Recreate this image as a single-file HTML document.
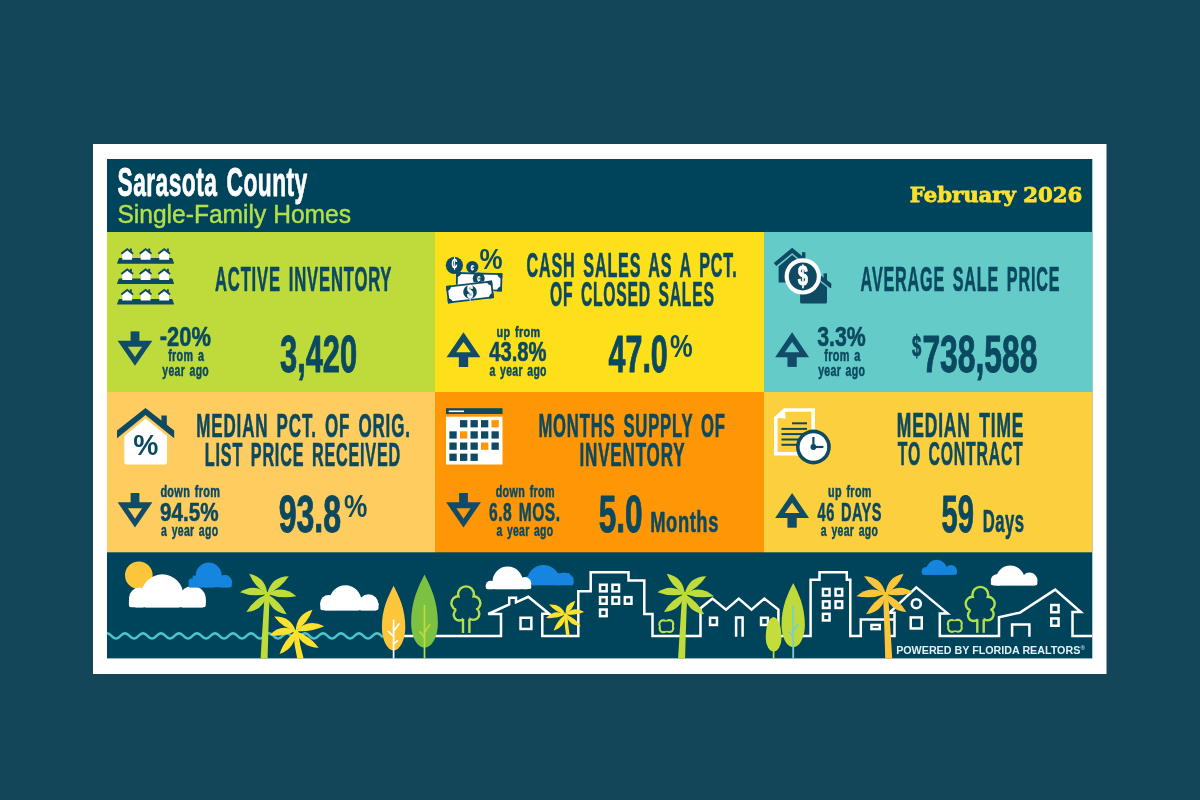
<!DOCTYPE html>
<html lang="en"><head><meta charset="utf-8"><title>Sarasota County Single-Family Homes - February 2026</title>
<style>html,body{margin:0;padding:0;background:#124658;width:1200px;height:800px;overflow:hidden}svg{display:block;will-change:transform}text{font-kerning:normal}</style></head>
<body>
<svg width="1200" height="800" viewBox="0 0 1200 800">
<rect x="0" y="0" width="1200" height="800" fill="#124658"/>
<rect x="93" y="144" width="1013.5" height="530" fill="#ffffff"/>
<rect x="107" y="159" width="985.3" height="499.4" fill="#00445c"/>
<rect x="107" y="232" width="328" height="160" fill="#bedb3b"/>
<rect x="435" y="232" width="329" height="160" fill="#fde01a"/>
<rect x="764" y="232" width="328.29999999999995" height="160" fill="#64cbc8"/>
<rect x="107" y="392" width="328" height="160.29999999999995" fill="#fecc5f"/>
<rect x="435" y="392" width="329" height="160.29999999999995" fill="#ff9606"/>
<rect x="764" y="392" width="328.29999999999995" height="160.29999999999995" fill="#fccf3f"/>
<g fill="#104c67"><rect x="130.6" y="331.4" width="8.8" height="11"/><polygon points="117.6,340.75 152.4,340.75 135,365.79999999999995"/></g><polygon points="127.9,346.65 142.1,346.65 135,357.09999999999997" fill="#bedb3b"/>
<g fill="#104c67"><rect x="458.85" y="355.3" width="9.3" height="11.7"/><polygon points="446.55,357.3 480.45,357.3 463.5,332.3"/></g><polygon points="456.2,352.3 470.8,352.3 463.5,342.0" fill="#fde01a"/>
<g fill="#104c67"><rect x="787.45" y="355.2" width="9.3" height="11.7"/><polygon points="775.15,357.2 809.0500000000001,357.2 792.1,332.2"/></g><polygon points="784.8000000000001,352.2 799.4,352.2 792.1,341.9" fill="#64cbc8"/>
<g fill="#104c67"><rect x="130.6" y="493" width="8.8" height="11"/><polygon points="117.6,502.35 152.4,502.35 135,527.4"/></g><polygon points="127.9,508.25 142.1,508.25 135,518.7" fill="#fecc5f"/>
<g fill="#104c67"><rect x="459.1" y="493" width="8.8" height="11"/><polygon points="446.1,502.35 480.9,502.35 463.5,527.4"/></g><polygon points="456.4,508.25 470.6,508.25 463.5,518.7" fill="#ff9606"/>
<g fill="#104c67"><rect x="787.45" y="516" width="9.3" height="11.7"/><polygon points="775.15,518 809.0500000000001,518 792.1,493"/></g><polygon points="784.8000000000001,513 799.4,513 792.1,502.7" fill="#fccf3f"/>
<polygon points="119.4,258.70000000000005 171.8,258.70000000000005 173.4,263.1 117.7,263.1" fill="#0f4a63" stroke="#0f4a63" stroke-width="1.2" stroke-linejoin="round"/>
<path d="M122.3,259.70000000000005 V253.10000000000002 L127.2,249.3 L132.1,253.10000000000002 V259.70000000000005 Z" fill="#fff"/>
<rect x="129.9" y="248.50000000000003" width="1.9" height="3.6" fill="#0f4a63"/>
<path d="M121.3,253.8 L127.2,249.20000000000002 L133.1,253.8" fill="none" stroke="#0f4a63" stroke-width="1.9"/>
<path d="M140.7,259.70000000000005 V253.10000000000002 L145.6,249.3 L150.5,253.10000000000002 V259.70000000000005 Z" fill="#fff"/>
<rect x="148.29999999999998" y="248.50000000000003" width="1.9" height="3.6" fill="#0f4a63"/>
<path d="M139.7,253.8 L145.6,249.20000000000002 L151.5,253.8" fill="none" stroke="#0f4a63" stroke-width="1.9"/>
<path d="M159.29999999999998,259.70000000000005 V253.10000000000002 L164.2,249.3 L169.1,253.10000000000002 V259.70000000000005 Z" fill="#fff"/>
<rect x="166.89999999999998" y="248.50000000000003" width="1.9" height="3.6" fill="#0f4a63"/>
<path d="M158.29999999999998,253.8 L164.2,249.20000000000002 L170.1,253.8" fill="none" stroke="#0f4a63" stroke-width="1.9"/>
<polygon points="119.4,279.0 171.8,279.0 173.4,283.4 117.7,283.4" fill="#0f4a63" stroke="#0f4a63" stroke-width="1.2" stroke-linejoin="round"/>
<path d="M122.3,280.0 V273.4 L127.2,269.59999999999997 L132.1,273.4 V280.0 Z" fill="#fff"/>
<rect x="129.9" y="268.79999999999995" width="1.9" height="3.6" fill="#0f4a63"/>
<path d="M121.3,274.09999999999997 L127.2,269.5 L133.1,274.09999999999997" fill="none" stroke="#0f4a63" stroke-width="1.9"/>
<path d="M140.7,280.0 V273.4 L145.6,269.59999999999997 L150.5,273.4 V280.0 Z" fill="#fff"/>
<rect x="148.29999999999998" y="268.79999999999995" width="1.9" height="3.6" fill="#0f4a63"/>
<path d="M139.7,274.09999999999997 L145.6,269.5 L151.5,274.09999999999997" fill="none" stroke="#0f4a63" stroke-width="1.9"/>
<path d="M159.29999999999998,280.0 V273.4 L164.2,269.59999999999997 L169.1,273.4 V280.0 Z" fill="#fff"/>
<rect x="166.89999999999998" y="268.79999999999995" width="1.9" height="3.6" fill="#0f4a63"/>
<path d="M158.29999999999998,274.09999999999997 L164.2,269.5 L170.1,274.09999999999997" fill="none" stroke="#0f4a63" stroke-width="1.9"/>
<polygon points="119.4,299.5 171.8,299.5 173.4,303.9 117.7,303.9" fill="#0f4a63" stroke="#0f4a63" stroke-width="1.2" stroke-linejoin="round"/>
<path d="M122.3,300.5 V293.9 L127.2,290.09999999999997 L132.1,293.9 V300.5 Z" fill="#fff"/>
<rect x="129.9" y="289.29999999999995" width="1.9" height="3.6" fill="#0f4a63"/>
<path d="M121.3,294.59999999999997 L127.2,290.0 L133.1,294.59999999999997" fill="none" stroke="#0f4a63" stroke-width="1.9"/>
<path d="M140.7,300.5 V293.9 L145.6,290.09999999999997 L150.5,293.9 V300.5 Z" fill="#fff"/>
<rect x="148.29999999999998" y="289.29999999999995" width="1.9" height="3.6" fill="#0f4a63"/>
<path d="M139.7,294.59999999999997 L145.6,290.0 L151.5,294.59999999999997" fill="none" stroke="#0f4a63" stroke-width="1.9"/>
<path d="M159.29999999999998,300.5 V293.9 L164.2,290.09999999999997 L169.1,293.9 V300.5 Z" fill="#fff"/>
<rect x="166.89999999999998" y="289.29999999999995" width="1.9" height="3.6" fill="#0f4a63"/>
<path d="M158.29999999999998,294.59999999999997 L164.2,290.0 L170.1,294.59999999999997" fill="none" stroke="#0f4a63" stroke-width="1.9"/>
<clipPath id="bl1"><rect x="456.0" y="272.7" width="46.2" height="18.2"/></clipPath>
<g transform="rotate(1.5 479.1 281.8)"><rect x="456.0" y="272.7" width="46.2" height="18.2" fill="#fff"/><g clip-path="url(#bl1)" fill="#0f4a63"><circle cx="456.0" cy="272.7" r="5.2"/><circle cx="502.2" cy="272.7" r="5.2"/><circle cx="456.0" cy="290.9" r="5.2"/><circle cx="502.2" cy="290.9" r="5.2"/></g><rect x="456.9" y="273.59999999999997" width="44.400000000000006" height="16.4" fill="none" stroke="#0f4a63" stroke-width="1.8"/></g>
<circle cx="454.4" cy="265.3" r="8.6" fill="#0f4a63"/><circle cx="472.3" cy="267.1" r="6.1" fill="#0f4a63"/><circle cx="478.7" cy="278.5" r="6" fill="#0f4a63"/>
<text x="454.6" y="270.4" text-anchor="middle" font-family="'Liberation Sans',sans-serif" font-weight="bold" font-size="19" fill="#fff" textLength="6" lengthAdjust="spacingAndGlyphs">¢</text>
<text x="472.4" y="270.6" text-anchor="middle" font-family="'Liberation Sans',sans-serif" font-weight="bold" font-style="italic" font-size="9.5" fill="#fff" textLength="4" lengthAdjust="spacingAndGlyphs">¢</text>
<text x="478.8" y="281.8" text-anchor="middle" font-family="'Liberation Sans',sans-serif" font-weight="bold" font-style="italic" font-size="9" fill="#fff" textLength="3.8" lengthAdjust="spacingAndGlyphs">¢</text>
<clipPath id="bl2"><rect x="446.8" y="283.2" width="46.4" height="17.6"/></clipPath>
<g transform="rotate(-6.8 470 292)"><rect x="446.8" y="283.2" width="46.4" height="17.6" fill="#fff"/><g clip-path="url(#bl2)" fill="#0f4a63"><circle cx="446.8" cy="283.2" r="5.2"/><circle cx="493.2" cy="283.2" r="5.2"/><circle cx="446.8" cy="300.8" r="5.2"/><circle cx="493.2" cy="300.8" r="5.2"/></g><rect x="447.7" y="284.09999999999997" width="44.6" height="15.8" fill="none" stroke="#0f4a63" stroke-width="1.8"/><circle cx="470" cy="292" r="6.8" fill="#0f4a63"/></g>
<text x="470" y="298.4" text-anchor="middle" font-family="'Liberation Sans',sans-serif" font-weight="bold" font-size="17.5" fill="#fff" stroke="#fff" stroke-width="0.5" textLength="6.2" lengthAdjust="spacingAndGlyphs">$</text>
<g fill="#0f4a63"><rect x="802" y="252.2" width="3.4" height="9"/><path d="M778.6,266.4 L792.2,255.1 L805.6,266.3 V282.4 H778.6 Z"/><path d="M773.8,262.9 L792.2,247.8 L807,260.2 V265.6 L792.2,253.1 L776.2,266 Z"/><rect x="823.6" y="273.4" width="3.4" height="9"/><path d="M800.1,287 L813.5,276.7 L827,287.2 V302.1 Q827,303.6 825.5,303.6 H801.6 Q800.1,303.6 800.1,302.1 Z"/><path d="M795,284.4 L813.5,269.7 L831.3,283.6 V287.6 L830.6,288.3 L813.5,275 L797.2,287.8 Z"/></g>
<circle cx="802.8" cy="276.4" r="18.2" fill="#fff"/><circle cx="802.8" cy="276.4" r="14" fill="#0f4a63"/>
<text x="802.8" y="285.3" text-anchor="middle" font-family="'Liberation Sans',sans-serif" font-weight="bold" font-size="28" fill="#fff" stroke="#fff" stroke-width="0.9" textLength="10.2" lengthAdjust="spacingAndGlyphs">$</text>
<path d="M124.3,436 L145.5,418.6 L167,436 V462.3 Q167,464.5 164.8,464.5 H126.5 Q124.3,464.5 124.3,462.3 Z" fill="#fff"/>
<rect x="161.4" y="415.5" width="5.4" height="12" fill="#0f4a63"/>
<path d="M117,430.5 L145.5,408.1 L174.2,430.5 V438.2 L145.5,415 L117,438.2 Z" fill="#0f4a63"/>
<rect x="446" y="408.2" width="56.5" height="5.8" fill="#0f4a63"/><rect x="448.7" y="410.5" width="15.3" height="1.6" fill="#fff"/>
<rect x="446" y="416.7" width="56.5" height="47.8" fill="#fff"/>
<rect x="460" y="420.1" width="7.3" height="7.3" fill="#0f4a63"/>
<rect x="470.5" y="420.1" width="7.3" height="7.3" fill="#0f4a63"/>
<rect x="481" y="420.1" width="7.3" height="7.3" fill="#0f4a63"/>
<rect x="491.5" y="420.1" width="7.3" height="7.3" fill="#ff9606"/>
<rect x="449.4" y="431.3" width="7.3" height="7.3" fill="#0f4a63"/>
<rect x="460" y="431.3" width="7.3" height="7.3" fill="#ff9606"/>
<rect x="470.5" y="431.3" width="7.3" height="7.3" fill="#0f4a63"/>
<rect x="481" y="431.3" width="7.3" height="7.3" fill="#0f4a63"/>
<rect x="491.5" y="431.3" width="7.3" height="7.3" fill="#0f4a63"/>
<rect x="449.4" y="442.5" width="7.3" height="7.3" fill="#0f4a63"/>
<rect x="460" y="442.5" width="7.3" height="7.3" fill="#0f4a63"/>
<rect x="470.5" y="442.5" width="7.3" height="7.3" fill="#0f4a63"/>
<rect x="481" y="442.5" width="7.3" height="7.3" fill="#ff9606"/>
<rect x="491.5" y="442.5" width="7.3" height="7.3" fill="#0f4a63"/>
<rect x="449.4" y="453.6" width="7.3" height="7.3" fill="#0f4a63"/>
<rect x="460" y="453.6" width="7.3" height="7.3" fill="#0f4a63"/>
<rect x="470.5" y="453.6" width="7.3" height="7.3" fill="#0f4a63"/>
<path d="M784.6,410 H813.2 V453.7 H775.8 V418 Z" fill="none" stroke="#fff" stroke-width="3.6" stroke-linejoin="miter"/>
<polygon points="774,417.8 784.8,408.2 785.6,418.6" fill="#fff"/>
<rect x="792" y="422.3" width="15" height="2" fill="#0f4a63"/>
<rect x="781.5" y="427.9" width="25.5" height="2" fill="#0f4a63"/>
<rect x="781.5" y="433.1" width="25.5" height="2" fill="#0f4a63"/>
<rect x="781.5" y="438.5" width="25.5" height="2" fill="#0f4a63"/>
<rect x="781.5" y="443.8" width="25.5" height="2" fill="#0f4a63"/>
<circle cx="813.4" cy="447" r="17.4" fill="#0f4a63"/><circle cx="813.4" cy="447" r="13.8" fill="#fff"/>
<circle cx="813.4" cy="447" r="2.9" fill="#0f4a63"/><rect x="812.3" y="437" width="2.2" height="10" fill="#0f4a63"/><rect x="813.4" y="445.9" width="10" height="2.2" fill="#0f4a63"/>
<circle cx="138.8" cy="575.2" r="13.8" fill="#fcc53a"/>
<clipPath id="cl1"><rect x="126.9" y="537.4" width="80.9" height="70"/></clipPath>
<g clip-path="url(#cl1)" fill="#fff"><circle cx="162.3" cy="595.3" r="21"/><circle cx="192.5" cy="599.2" r="13.3"/><circle cx="139.4" cy="598" r="10.4"/><rect x="128.9" y="598.4" width="76.9" height="9" rx="2.6"/><rect x="132.9" y="595.4" width="68.9" height="9"/></g>
<clipPath id="cl2"><rect x="186.7" y="517.6" width="47.10000000000002" height="70"/></clipPath>
<g clip-path="url(#cl2)" fill="#1585e0"><circle cx="208.7" cy="575.6" r="13"/><circle cx="224.8" cy="582" r="7"/><circle cx="196.2" cy="585" r="7.4"/><rect x="188.7" y="578.6" width="43.10000000000002" height="9" rx="2.6"/><rect x="192.7" y="575.6" width="35.10000000000002" height="9"/></g>
<clipPath id="cl3"><rect x="318.3" y="540.4" width="62.19999999999999" height="70"/></clipPath>
<g clip-path="url(#cl3)" fill="#fff"><circle cx="345.4" cy="601.4" r="16.1"/><circle cx="368.5" cy="604.3" r="10"/><circle cx="328.6" cy="603.2" r="8.3"/><rect x="320.3" y="601.4" width="58.19999999999999" height="9" rx="2.6"/><rect x="324.3" y="598.4" width="50.19999999999999" height="9"/></g>
<clipPath id="cl5"><rect x="523" y="515.2" width="52.5" height="70"/></clipPath>
<g clip-path="url(#cl5)" fill="#1585e0"><circle cx="543.5" cy="581.3" r="16.4"/><circle cx="564.3" cy="581.6" r="9.2"/><circle cx="531" cy="583" r="5"/><rect x="525" y="576.2" width="48.5" height="9" rx="2.6"/><rect x="529" y="573.2" width="40.5" height="9"/></g>
<clipPath id="cl4"><rect x="483.7" y="519.3" width="49.599999999999966" height="70"/></clipPath>
<g clip-path="url(#cl4)" fill="#fff"><circle cx="507.7" cy="581.7" r="15.2"/><circle cx="524.8" cy="583.5" r="6.5"/><circle cx="490.6" cy="585.6" r="4.9"/><rect x="485.7" y="584.3" width="45.599999999999966" height="5" rx="2.6"/><rect x="489.7" y="581.3" width="37.599999999999966" height="5"/></g>
<clipPath id="cl6"><rect x="919.7" y="504.70000000000005" width="39.299999999999955" height="70"/></clipPath>
<g clip-path="url(#cl6)" fill="#1585e0"><circle cx="936.7" cy="570.2" r="10.4"/><circle cx="951" cy="571" r="6"/><circle cx="926.3" cy="571.6" r="4.6"/><rect x="921.7" y="570.2" width="35.299999999999955" height="4.5" rx="2.6"/><rect x="925.7" y="567.2" width="27.299999999999955" height="4.5"/></g>
<clipPath id="cl7"><rect x="988.8" y="515.4" width="50.600000000000136" height="70"/></clipPath>
<g clip-path="url(#cl7)" fill="#fff"><circle cx="1010.3" cy="579.9" r="14.4"/><circle cx="1029.5" cy="580.6" r="8"/><circle cx="996.9" cy="580.4" r="6.1"/><rect x="990.8" y="580.4" width="46.600000000000136" height="5" rx="2.6"/><rect x="994.8" y="577.4" width="38.600000000000136" height="5"/></g>
<polyline points="107.0,633.30 108.5,633.65 110.0,634.60 111.5,635.90 113.0,637.20 114.5,638.15 116.0,638.50 117.5,638.15 119.0,637.20 120.5,635.90 122.0,634.60 123.5,633.65 125.0,633.30 126.5,633.65 128.0,634.60 129.5,635.90 131.0,637.20 132.5,638.15 134.0,638.50 135.5,638.15 137.0,637.20 138.5,635.90 140.0,634.60 141.5,633.65 143.0,633.30 144.5,633.65 146.0,634.60 147.5,635.90 149.0,637.20 150.5,638.15 152.0,638.50 153.5,638.15 155.0,637.20 156.5,635.90 158.0,634.60 159.5,633.65 161.0,633.30 162.5,633.65 164.0,634.60 165.5,635.90 167.0,637.20 168.5,638.15 170.0,638.50 171.5,638.15 173.0,637.20 174.5,635.90 176.0,634.60 177.5,633.65 179.0,633.30 180.5,633.65 182.0,634.60 183.5,635.90 185.0,637.20 186.5,638.15 188.0,638.50 189.5,638.15 191.0,637.20 192.5,635.90 194.0,634.60 195.5,633.65 197.0,633.30 198.5,633.65 200.0,634.60 201.5,635.90 203.0,637.20 204.5,638.15 206.0,638.50 207.5,638.15 209.0,637.20 210.5,635.90 212.0,634.60 213.5,633.65 215.0,633.30 216.5,633.65 218.0,634.60 219.5,635.90 221.0,637.20 222.5,638.15 224.0,638.50 225.5,638.15 227.0,637.20 228.5,635.90 230.0,634.60 231.5,633.65 233.0,633.30 234.5,633.65 236.0,634.60 237.5,635.90 239.0,637.20 240.5,638.15 242.0,638.50 243.5,638.15 245.0,637.20 246.5,635.90 248.0,634.60 249.5,633.65 251.0,633.30 252.5,633.65 254.0,634.60 255.5,635.90 257.0,637.20 258.5,638.15 260.0,638.50 261.5,638.15 263.0,637.20 264.5,635.90 266.0,634.60 267.5,633.65 269.0,633.30 270.5,633.65 272.0,634.60 273.5,635.90 275.0,637.20 276.5,638.15 278.0,638.50 279.5,638.15 281.0,637.20 282.5,635.90 284.0,634.60 285.5,633.65 287.0,633.30 288.5,633.65 290.0,634.60 291.5,635.90 293.0,637.20 294.5,638.15 296.0,638.50 297.5,638.15 299.0,637.20 300.5,635.90 302.0,634.60 303.5,633.65 305.0,633.30 306.5,633.65 308.0,634.60 309.5,635.90 311.0,637.20 312.5,638.15 314.0,638.50 315.5,638.15 317.0,637.20 318.5,635.90 320.0,634.60 321.5,633.65 323.0,633.30 324.5,633.65 326.0,634.60 327.5,635.90 329.0,637.20 330.5,638.15 332.0,638.50 333.5,638.15 335.0,637.20 336.5,635.90 338.0,634.60 339.5,633.65 341.0,633.30 342.5,633.65 344.0,634.60 345.5,635.90 347.0,637.20 348.5,638.15 350.0,638.50 351.5,638.15 353.0,637.20 354.5,635.90 356.0,634.60 357.5,633.65 359.0,633.30 360.5,633.65 362.0,634.60 363.5,635.90 365.0,637.20 366.5,638.15 368.0,638.50 369.5,638.15 371.0,637.20 372.5,635.90 374.0,634.60 375.5,633.65 377.0,633.30 378.5,633.65 380.0,634.60 381.5,635.90 383.0,637.20" fill="none" stroke="#4cc4c8" stroke-width="2.5" stroke-linejoin="round"/>
<g fill="none" stroke="#fff" stroke-width="2.5" stroke-linejoin="miter" stroke-linecap="butt">
<path d="M404,636 H501 V614 H488.2 L509.2,604.4 V597.8 H516 V602.4 L528.3,596.8 L549.2,613.7 H542.3 V636 H578.3 V591.3 H590.7 V572.3 H628.5 V580.6 H644.3 V614.1 H652.5 V636 H700.5 V608.2 L712.5,598.6 L726,609.6 L738.8,598.6 L751.5,609.6 L764.3,598.6 L778.4,609.6 V636 H810.6 V579.8 H819.5 V572.3 H846.8 V579.8 H850.3 V636 H860.8 V619.5 H894.5"/>
<path d="M888,636 H894.5 V612.8 H889.4 L916.3,587.3 L947.6,613.4 H939.8 V636 H999 V617.2 L1020,612.6 L1055.2,589.6 L1080.8,612.1 H1072.5 V636 H1092.3"/>
<rect x="520.55" y="617.75" width="10.80" height="11.20"/>
<rect x="600.05" y="584.75" width="6.60" height="6.60"/>
<rect x="612.45" y="584.75" width="6.60" height="6.60"/>
<rect x="600.05" y="597.15" width="6.60" height="6.60"/>
<rect x="612.45" y="597.15" width="6.60" height="6.60"/>
<rect x="624.85" y="597.15" width="6.60" height="6.60"/>
<rect x="600.05" y="609.55" width="6.60" height="6.60"/>
<rect x="710.05" y="617.75" width="6.90" height="7.20"/>
<rect x="761.05" y="617.75" width="6.90" height="7.20"/>
<path d="M736.1,636.8 V617.6 H742.6 V636.8"/>
<rect x="822.95" y="588.95" width="6.60" height="6.60"/>
<rect x="835.55" y="588.95" width="6.60" height="6.60"/>
<rect x="822.95" y="601.35" width="6.60" height="6.60"/>
<rect x="835.55" y="601.35" width="6.60" height="6.60"/>
<rect x="822.95" y="613.85" width="6.60" height="6.60"/>
<rect x="871.45" y="624.95" width="8.30" height="4.10"/>
<circle cx="916.3" cy="603.7" r="4.5" stroke-width="2.6"/>
<rect x="910.75" y="617.45" width="11.00" height="11.00"/>
<path d="M1012.1,636.8 V624.4 H1029.4 V636.8"/>
<rect x="1051.25" y="605.05" width="7.30" height="7.20"/>
<rect x="1051.25" y="618.45" width="7.30" height="7.30"/>
</g>
<g><circle cx="466" cy="594.3000000000001" r="9.1" fill="#b5e04b"/><circle cx="458.4" cy="603.2" r="8.2" fill="#b5e04b"/><circle cx="473.4" cy="603.2" r="8.2" fill="#b5e04b"/><circle cx="459.4" cy="614.8000000000001" r="6.9" fill="#b5e04b"/><circle cx="473.2" cy="613.8000000000001" r="7.3" fill="#b5e04b"/><circle cx="466" cy="594.3000000000001" r="6.699999999999999" fill="#00445c"/><circle cx="458.4" cy="603.2" r="5.799999999999999" fill="#00445c"/><circle cx="473.4" cy="603.2" r="5.799999999999999" fill="#00445c"/><circle cx="459.4" cy="614.8000000000001" r="4.5" fill="#00445c"/><circle cx="473.2" cy="613.8000000000001" r="4.9" fill="#00445c"/><polygon points="458.4,603.2 466,594.3000000000001 473.4,603.2 473.2,613.8000000000001 459.4,614.8000000000001" fill="#00445c" stroke="#00445c" stroke-width="5" stroke-linejoin="round"/><rect x="463" y="615.2" width="6.4" height="8" fill="#00445c"/><rect x="461.8" y="618.8000000000001" width="2.4" height="14.199999999999953" fill="#b5e04b"/><rect x="468.2" y="618.8000000000001" width="2.4" height="14.199999999999953" fill="#b5e04b"/></g>
<g><circle cx="980.3" cy="594.8000000000001" r="9.1" fill="#b5e04b"/><circle cx="972.6999999999999" cy="603.7" r="8.2" fill="#b5e04b"/><circle cx="987.6999999999999" cy="603.7" r="8.2" fill="#b5e04b"/><circle cx="973.6999999999999" cy="615.3000000000001" r="6.9" fill="#b5e04b"/><circle cx="987.5" cy="614.3000000000001" r="7.3" fill="#b5e04b"/><circle cx="980.3" cy="594.8000000000001" r="6.699999999999999" fill="#00445c"/><circle cx="972.6999999999999" cy="603.7" r="5.799999999999999" fill="#00445c"/><circle cx="987.6999999999999" cy="603.7" r="5.799999999999999" fill="#00445c"/><circle cx="973.6999999999999" cy="615.3000000000001" r="4.5" fill="#00445c"/><circle cx="987.5" cy="614.3000000000001" r="4.9" fill="#00445c"/><polygon points="972.6999999999999,603.7 980.3,594.8000000000001 987.6999999999999,603.7 987.5,614.3000000000001 973.6999999999999,615.3000000000001" fill="#00445c" stroke="#00445c" stroke-width="5" stroke-linejoin="round"/><rect x="977.3" y="615.7" width="6.4" height="8" fill="#00445c"/><rect x="976.0999999999999" y="619.3000000000001" width="2.4" height="13.499999999999908" fill="#b5e04b"/><rect x="982.5" y="619.3000000000001" width="2.4" height="13.499999999999908" fill="#b5e04b"/></g>
<g><circle cx="663.1999999999999" cy="624.1999999999999" r="4.9" fill="#b5e04b"/><circle cx="669.4" cy="624.0" r="4.9" fill="#b5e04b"/><circle cx="663.4" cy="628.5" r="4.8" fill="#b5e04b"/><circle cx="669.5" cy="628.3" r="4.8" fill="#b5e04b"/><circle cx="663.1999999999999" cy="624.1999999999999" r="2.6000000000000005" fill="#00445c"/><circle cx="669.4" cy="624.0" r="2.6000000000000005" fill="#00445c"/><circle cx="663.4" cy="628.5" r="2.5" fill="#00445c"/><circle cx="669.5" cy="628.3" r="2.5" fill="#00445c"/><polygon points="663.1999999999999,624.1999999999999 669.4,624.0 669.5,628.3 663.4,628.5" fill="#00445c" stroke="#00445c" stroke-width="5" stroke-linejoin="round"/></g>
<g><circle cx="951.6999999999999" cy="623.8" r="4.9" fill="#b5e04b"/><circle cx="957.9" cy="623.6" r="4.9" fill="#b5e04b"/><circle cx="951.9" cy="628.1" r="4.8" fill="#b5e04b"/><circle cx="958.0" cy="627.9" r="4.8" fill="#b5e04b"/><circle cx="951.6999999999999" cy="623.8" r="2.6000000000000005" fill="#00445c"/><circle cx="957.9" cy="623.6" r="2.6000000000000005" fill="#00445c"/><circle cx="951.9" cy="628.1" r="2.5" fill="#00445c"/><circle cx="958.0" cy="627.9" r="2.5" fill="#00445c"/><polygon points="951.6999999999999,623.8 957.9,623.6 958.0,627.9 951.9,628.1" fill="#00445c" stroke="#00445c" stroke-width="5" stroke-linejoin="round"/></g>
<path d="M393.6,585.8 C398.87,596.10 405.3,608.46 405.3,627 A11.7,23.5 0 0 1 381.90000000000003,627 C381.90000000000003,608.46 388.34,596.10 393.6,585.8 Z" fill="#fcc53a"/>
<rect x="392.75" y="619.5" width="1.7" height="38.89999999999998" fill="#fff"/>
<path d="M393.6,631.3 l5.3,-7.3 M393.6,636.4 l-5.3,-5.1 M393.6,643.7 l3.9,-2.8" fill="none" stroke="#fff" stroke-width="1.7" stroke-linecap="round"/>
<path d="M424.5,574.5 C430.53,586.62 437.9,601.17 437.9,623 A13.4,24.600000000000023 0 0 1 411.1,623 C411.1,601.17 418.47,586.62 424.5,574.5 Z" fill="#7cc142"/>
<rect x="423.65" y="604.9" width="1.7" height="53.5" fill="#bfdc3a"/>
<path d="M424.5,632.5 l5.3,-7.9 M424.5,637.5 l-4.5,-5.6" fill="none" stroke="#bfdc3a" stroke-width="1.7" stroke-linecap="round"/>
<path d="M773.6,617 C779.13,617.63 781.5,628.55 781.5,638 A7.9,13.600000000000023 0 0 1 765.7,638 C765.7,628.55 768.07,617.63 773.6,617 Z" fill="#c4dd3a"/>
<rect x="772.75" y="640" width="1.7" height="18.399999999999977" fill="#c4dd3a"/>
<path d="M793.2,583 C798.47,593.50 804.9000000000001,606.10 804.9000000000001,625 A11.7,22.200000000000045 0 0 1 781.5,625 C781.5,606.10 787.94,593.50 793.2,583 Z" fill="#bedb3b"/>
<rect x="792.3000000000001" y="605.3" width="1.8" height="53.10000000000002" fill="#7fcfc2"/>
<path d="M793.2,631.3 l4.8,-6.9 M793.2,636 l-4.2,-3.6" fill="none" stroke="#7fcfc2" stroke-width="1.8" stroke-linecap="round"/>
<g><path d="M264.8,592 L269.8,592 Q268.3,630 267.59999999999997,658.4 L260.59999999999997,658.4 Q262.3,630 264.8,592 Z" fill="#bfdc3a"/><path d="M267.2,594 Q265.89,577.04 249.2,573.8 Q254.55,587.16 267.2,594 Z" fill="#bfdc3a"/><path d="M267.2,594 Q280.69,588.44 288.8,576.3 Q271.06,576.68 267.2,594 Z" fill="#bfdc3a"/><path d="M267.2,594 Q254.32,582.25 240.0,592.2 Q253.31,597.42 267.2,594 Z" fill="#bfdc3a"/><path d="M267.2,594 Q281.48,599.22 296.4,596.3 Q282.67,584.07 267.2,594 Z" fill="#bfdc3a"/><path d="M267.2,594 Q253.63,599.33 246.39999999999998,612 Q263.57,610.83 267.2,594 Z" fill="#bfdc3a"/><path d="M267.2,594 Q269.03,611.75 286.7,614.3 Q279.99,601.23 267.2,594 Z" fill="#bfdc3a"/></g>
<g><path d="M682.3000000000001,592 L687.3000000000001,592 Q685.8000000000001,630 685.1,658.4 L678.1,658.4 Q679.8000000000001,630 682.3000000000001,592 Z" fill="#bfdc3a"/><path d="M684.7,594 Q683.39,577.04 666.7,573.8 Q672.05,587.16 684.7,594 Z" fill="#bfdc3a"/><path d="M684.7,594 Q698.19,588.44 706.3000000000001,576.3 Q688.56,576.68 684.7,594 Z" fill="#bfdc3a"/><path d="M684.7,594 Q671.82,582.25 657.5,592.2 Q670.81,597.42 684.7,594 Z" fill="#bfdc3a"/><path d="M684.7,594 Q698.98,599.22 713.9000000000001,596.3 Q700.17,584.07 684.7,594 Z" fill="#bfdc3a"/><path d="M684.7,594 Q671.13,599.33 663.9000000000001,612 Q681.07,610.83 684.7,594 Z" fill="#bfdc3a"/><path d="M684.7,594 Q686.53,611.75 704.2,614.3 Q697.49,601.23 684.7,594 Z" fill="#bfdc3a"/></g>
<g><path d="M888.0,592 L883.0,592 Q884.5,630 885.2,658.4 L892.2,658.4 Q890.5,630 888.0,592 Z" fill="#fcc53a"/><path d="M885.6,594 Q898.25,587.16 903.6,573.8 Q886.91,577.04 885.6,594 Z" fill="#fcc53a"/><path d="M885.6,594 Q881.74,576.68 864.0,576.3 Q872.11,588.44 885.6,594 Z" fill="#fcc53a"/><path d="M885.6,594 Q899.49,597.42 912.8000000000001,592.2 Q898.48,582.25 885.6,594 Z" fill="#fcc53a"/><path d="M885.6,594 Q870.13,584.07 856.4,596.3 Q871.32,599.22 885.6,594 Z" fill="#fcc53a"/><path d="M885.6,594 Q889.23,610.83 906.4,612 Q899.17,599.33 885.6,594 Z" fill="#fcc53a"/><path d="M885.6,594 Q872.81,601.23 866.1,614.3 Q883.77,611.75 885.6,594 Z" fill="#fcc53a"/></g>
<g><path d="M293.3,630 L298,630 Q299.5,645 303.6,658.4 L297.2,658.4 Q294,645 293.3,630 Z" fill="#fde12d"/><path d="M295.7,631 Q290.43,615.63 274.2,616.5 Q282.37,627.57 295.7,631 Z" fill="#fde12d"/><path d="M295.7,631 Q307.62,623.13 312.5,609.7 Q296.32,614.21 295.7,631 Z" fill="#fde12d"/><path d="M295.7,631 Q310.57,632.28 324.2,626.2 Q308.18,618.08 295.7,631 Z" fill="#fde12d"/><path d="M295.7,631 Q281.05,622.87 269.7,635.2 Q283.34,637.09 295.7,631 Z" fill="#fde12d"/><path d="M295.7,631 Q284.01,639.97 279.5,654 Q295.79,648.27 295.7,631 Z" fill="#fde12d"/><path d="M295.7,631 Q301.30,647.48 318.7,647.7 Q309.76,635.82 295.7,631 Z" fill="#fde12d"/></g>
<g><path d="M564,613.5 L567.3,613.5 Q568,625 569.6,635 L566,635 Q564.6,625 564,613.5 Z" fill="#fde12d"/><path d="M565.5,614.3 Q560.89,603.28 549.0,604.5 Q555.57,612.22 565.5,614.3 Z" fill="#fde12d"/><path d="M565.5,614.3 Q573.22,609.61 575.2,600.8 Q564.78,603.55 565.5,614.3 Z" fill="#fde12d"/><path d="M565.5,614.3 Q575.21,616.07 584.2,612.0 Q573.94,605.74 565.5,614.3 Z" fill="#fde12d"/><path d="M565.5,614.3 Q554.34,608.70 546.0,618.0 Q556.28,618.92 565.5,614.3 Z" fill="#fde12d"/><path d="M565.5,614.3 Q556.94,620.69 553.5,630.8 Q565.36,626.81 565.5,614.3 Z" fill="#fde12d"/><path d="M565.5,614.3 Q568.74,625.92 580.8,626.3 Q575.16,617.74 565.5,614.3 Z" fill="#fde12d"/></g>
<text x="117.48" y="196.18" font-family="'Liberation Sans', sans-serif" font-weight="bold" font-size="40.38" textLength="190.26" lengthAdjust="spacingAndGlyphs" fill="#ffffff" stroke="#ffffff" stroke-width="0.8" stroke-linejoin="round" letter-spacing="0.81" word-spacing="4.04">Sarasota County</text>
<text x="117.39" y="222.57" font-family="'Liberation Sans', sans-serif" font-weight="normal" font-size="25.78" textLength="233.66" lengthAdjust="spacingAndGlyphs" fill="#b4df4a" stroke="#b4df4a" stroke-width="0.45" stroke-linejoin="round">Single-Family Homes</text>
<text x="909.74" y="202.18" font-family="'DejaVu Serif', 'Liberation Serif', serif" font-weight="bold" font-size="20.77" textLength="172.62" lengthAdjust="spacingAndGlyphs" fill="#fde02e" stroke="#fde02e" stroke-width="0.8" stroke-linejoin="round">February 2026</text>
<text x="214.99" y="291.42" font-family="'Liberation Sans', sans-serif" font-weight="bold" font-size="35.00" textLength="177.28" lengthAdjust="spacingAndGlyphs" fill="#0b4960" stroke="#0b4960" stroke-width="0.69" stroke-linejoin="round" letter-spacing="1.75" word-spacing="5.25">ACTIVE INVENTORY</text>
<text x="159.81" y="346.18" font-family="'Liberation Sans', sans-serif" font-weight="bold" font-size="27.79" textLength="51.09" lengthAdjust="spacingAndGlyphs" fill="#0b4960" stroke="#0b4960" stroke-width="0.56" stroke-linejoin="round">-20%</text>
<text x="168.23" y="361.20" font-family="'Liberation Sans', sans-serif" font-weight="bold" font-size="15.66" textLength="35.94" lengthAdjust="spacingAndGlyphs" fill="#0b4960" stroke="#0b4960" stroke-width="0.5" stroke-linejoin="round" letter-spacing="0.47" word-spacing="1.88">from a</text>
<text x="162.33" y="376.30" font-family="'Liberation Sans', sans-serif" font-weight="bold" font-size="17.01" textLength="46.70" lengthAdjust="spacingAndGlyphs" fill="#0b4960" stroke="#0b4960" stroke-width="0.5" stroke-linejoin="round" letter-spacing="0.51" word-spacing="2.04">year ago</text>
<text x="279.97" y="371.60" font-family="'Liberation Sans', sans-serif" font-weight="bold" font-size="51.36" textLength="77.24" lengthAdjust="spacingAndGlyphs" fill="#0b4960" stroke="#0b4960" stroke-width="1.0" stroke-linejoin="round">3,420</text>
<text x="526.56" y="276.72" font-family="'Liberation Sans', sans-serif" font-weight="bold" font-size="34.85" textLength="210.88" lengthAdjust="spacingAndGlyphs" fill="#0b4960" stroke="#0b4960" stroke-width="0.69" stroke-linejoin="round" letter-spacing="1.74" word-spacing="5.23">CASH SALES AS A PCT.</text>
<text x="550.07" y="305.53" font-family="'Liberation Sans', sans-serif" font-weight="bold" font-size="34.28" textLength="164.56" lengthAdjust="spacingAndGlyphs" fill="#0b4960" stroke="#0b4960" stroke-width="0.68" stroke-linejoin="round" letter-spacing="1.71" word-spacing="5.14">OF CLOSED SALES</text>
<text x="496.59" y="336.80" font-family="'Liberation Sans', sans-serif" font-weight="bold" font-size="15.31" textLength="43.82" lengthAdjust="spacingAndGlyphs" fill="#0b4960" stroke="#0b4960" stroke-width="0.5" stroke-linejoin="round" letter-spacing="0.46" word-spacing="1.84">up from</text>
<text x="489.23" y="361.18" font-family="'Liberation Sans', sans-serif" font-weight="bold" font-size="27.10" textLength="57.39" lengthAdjust="spacingAndGlyphs" fill="#0b4960" stroke="#0b4960" stroke-width="0.54" stroke-linejoin="round">43.8%</text>
<text x="489.45" y="375.70" font-family="'Liberation Sans', sans-serif" font-weight="bold" font-size="17.01" textLength="57.33" lengthAdjust="spacingAndGlyphs" fill="#0b4960" stroke="#0b4960" stroke-width="0.5" stroke-linejoin="round" letter-spacing="0.51" word-spacing="2.04">a year ago</text>
<text x="608.59" y="371.60" font-family="'Liberation Sans', sans-serif" font-weight="bold" font-size="51.36" textLength="59.14" lengthAdjust="spacingAndGlyphs" fill="#0b4960" stroke="#0b4960" stroke-width="1.0" stroke-linejoin="round">47.0</text>
<text x="670.12" y="356.70" font-family="'Liberation Sans', sans-serif" font-weight="bold" font-size="31.29" textLength="22.69" lengthAdjust="spacingAndGlyphs" fill="#0b4960">%</text>
<text x="479.51" y="268.90" font-family="'Liberation Sans', sans-serif" font-weight="bold" font-size="29.50" textLength="23.08" lengthAdjust="spacingAndGlyphs" fill="#0b4960">%</text>
<text x="860.61" y="291.32" font-family="'Liberation Sans', sans-serif" font-weight="bold" font-size="34.85" textLength="199.72" lengthAdjust="spacingAndGlyphs" fill="#0b4960" stroke="#0b4960" stroke-width="0.69" stroke-linejoin="round" letter-spacing="1.74" word-spacing="5.23">AVERAGE SALE PRICE</text>
<text x="817.16" y="345.98" font-family="'Liberation Sans', sans-serif" font-weight="bold" font-size="27.37" textLength="48.61" lengthAdjust="spacingAndGlyphs" fill="#0b4960" stroke="#0b4960" stroke-width="0.55" stroke-linejoin="round">3.3%</text>
<text x="824.22" y="361.00" font-family="'Liberation Sans', sans-serif" font-weight="bold" font-size="15.72" textLength="36.41" lengthAdjust="spacingAndGlyphs" fill="#0b4960" stroke="#0b4960" stroke-width="0.5" stroke-linejoin="round" letter-spacing="0.47" word-spacing="1.89">from a</text>
<text x="818.15" y="376.00" font-family="'Liberation Sans', sans-serif" font-weight="bold" font-size="16.82" textLength="47.15" lengthAdjust="spacingAndGlyphs" fill="#0b4960" stroke="#0b4960" stroke-width="0.5" stroke-linejoin="round" letter-spacing="0.50" word-spacing="2.02">year ago</text>
<text x="911.98" y="356.29" font-family="'Liberation Sans', sans-serif" font-weight="bold" font-size="29.51" textLength="9.34" lengthAdjust="spacingAndGlyphs" fill="#0b4960" stroke="#0b4960" stroke-width="0.69" stroke-linejoin="round">$</text>
<text x="922.42" y="371.60" font-family="'Liberation Sans', sans-serif" font-weight="bold" font-size="51.00" textLength="115.04" lengthAdjust="spacingAndGlyphs" fill="#0b4960" stroke="#0b4960" stroke-width="1.0" stroke-linejoin="round">738,588</text>
<text x="196.21" y="436.83" font-family="'Liberation Sans', sans-serif" font-weight="bold" font-size="34.01" textLength="214.66" lengthAdjust="spacingAndGlyphs" fill="#0b4960" stroke="#0b4960" stroke-width="0.67" stroke-linejoin="round" letter-spacing="1.70" word-spacing="5.10">MEDIAN PCT. OF ORIG.</text>
<text x="204.86" y="465.54" font-family="'Liberation Sans', sans-serif" font-weight="bold" font-size="33.58" textLength="196.14" lengthAdjust="spacingAndGlyphs" fill="#0b4960" stroke="#0b4960" stroke-width="0.66" stroke-linejoin="round" letter-spacing="1.68" word-spacing="5.04">LIST PRICE RECEIVED</text>
<text x="160.39" y="497.40" font-family="'Liberation Sans', sans-serif" font-weight="bold" font-size="15.79" textLength="59.92" lengthAdjust="spacingAndGlyphs" fill="#0b4960" stroke="#0b4960" stroke-width="0.5" stroke-linejoin="round" letter-spacing="0.47" word-spacing="1.90">down from</text>
<text x="160.04" y="521.19" font-family="'Liberation Sans', sans-serif" font-weight="bold" font-size="26.25" textLength="58.57" lengthAdjust="spacingAndGlyphs" fill="#0b4960" stroke="#0b4960" stroke-width="0.53" stroke-linejoin="round">94.5%</text>
<text x="161.04" y="536.30" font-family="'Liberation Sans', sans-serif" font-weight="bold" font-size="17.01" textLength="57.36" lengthAdjust="spacingAndGlyphs" fill="#0b4960" stroke="#0b4960" stroke-width="0.5" stroke-linejoin="round" letter-spacing="0.51" word-spacing="2.04">a year ago</text>
<text x="278.66" y="531.60" font-family="'Liberation Sans', sans-serif" font-weight="bold" font-size="51.36" textLength="62.42" lengthAdjust="spacingAndGlyphs" fill="#0b4960" stroke="#0b4960" stroke-width="1.0" stroke-linejoin="round">93.8</text>
<text x="344.00" y="517.00" font-family="'Liberation Sans', sans-serif" font-weight="bold" font-size="32.14" textLength="23.35" lengthAdjust="spacingAndGlyphs" fill="#0b4960">%</text>
<text x="133.14" y="454.50" font-family="'Liberation Sans', sans-serif" font-weight="bold" font-size="29.43" textLength="25.15" lengthAdjust="spacingAndGlyphs" fill="#0b4960">%</text>
<text x="538.43" y="436.83" font-family="'Liberation Sans', sans-serif" font-weight="bold" font-size="34.01" textLength="187.31" lengthAdjust="spacingAndGlyphs" fill="#0b4960" stroke="#0b4960" stroke-width="0.67" stroke-linejoin="round" letter-spacing="1.70" word-spacing="5.10">MONTHS SUPPLY OF</text>
<text x="579.43" y="465.53" font-family="'Liberation Sans', sans-serif" font-weight="bold" font-size="33.86" textLength="105.97" lengthAdjust="spacingAndGlyphs" fill="#0b4960" stroke="#0b4960" stroke-width="0.67" stroke-linejoin="round" letter-spacing="1.69" word-spacing="5.08">INVENTORY</text>
<text x="495.68" y="497.40" font-family="'Liberation Sans', sans-serif" font-weight="bold" font-size="15.79" textLength="59.16" lengthAdjust="spacingAndGlyphs" fill="#0b4960" stroke="#0b4960" stroke-width="0.5" stroke-linejoin="round" letter-spacing="0.47" word-spacing="1.90">down from</text>
<text x="488.99" y="521.19" font-family="'Liberation Sans', sans-serif" font-weight="bold" font-size="26.25" textLength="71.49" lengthAdjust="spacingAndGlyphs" fill="#0b4960" stroke="#0b4960" stroke-width="0.53" stroke-linejoin="round" letter-spacing="0.79" word-spacing="3.15">6.8 MOS.</text>
<text x="496.38" y="536.30" font-family="'Liberation Sans', sans-serif" font-weight="bold" font-size="17.01" textLength="57.07" lengthAdjust="spacingAndGlyphs" fill="#0b4960" stroke="#0b4960" stroke-width="0.5" stroke-linejoin="round" letter-spacing="0.51" word-spacing="2.04">a year ago</text>
<text x="598.73" y="531.60" font-family="'Liberation Sans', sans-serif" font-weight="bold" font-size="51.00" textLength="43.91" lengthAdjust="spacingAndGlyphs" fill="#0b4960" stroke="#0b4960" stroke-width="1.0" stroke-linejoin="round">5.0</text>
<text x="650.25" y="531.76" font-family="'Liberation Sans', sans-serif" font-weight="bold" font-size="30.17" textLength="68.69" lengthAdjust="spacingAndGlyphs" fill="#0b4960" stroke="#0b4960" stroke-width="0.6" stroke-linejoin="round" letter-spacing="0.91" word-spacing="3.62">Months</text>
<text x="896.75" y="436.83" font-family="'Liberation Sans', sans-serif" font-weight="bold" font-size="34.15" textLength="127.55" lengthAdjust="spacingAndGlyphs" fill="#0b4960" stroke="#0b4960" stroke-width="0.67" stroke-linejoin="round" letter-spacing="1.71" word-spacing="5.12">MEDIAN TIME</text>
<text x="897.73" y="465.34" font-family="'Liberation Sans', sans-serif" font-weight="bold" font-size="33.58" textLength="125.85" lengthAdjust="spacingAndGlyphs" fill="#0b4960" stroke="#0b4960" stroke-width="0.66" stroke-linejoin="round" letter-spacing="1.68" word-spacing="5.04">TO CONTRACT</text>
<text x="828.04" y="497.40" font-family="'Liberation Sans', sans-serif" font-weight="bold" font-size="15.79" textLength="43.67" lengthAdjust="spacingAndGlyphs" fill="#0b4960" stroke="#0b4960" stroke-width="0.5" stroke-linejoin="round" letter-spacing="0.47" word-spacing="1.90">up from</text>
<text x="817.59" y="521.19" font-family="'Liberation Sans', sans-serif" font-weight="bold" font-size="26.25" textLength="64.31" lengthAdjust="spacingAndGlyphs" fill="#0b4960" stroke="#0b4960" stroke-width="0.53" stroke-linejoin="round" letter-spacing="0.79" word-spacing="3.15">46 DAYS</text>
<text x="820.82" y="536.30" font-family="'Liberation Sans', sans-serif" font-weight="bold" font-size="17.01" textLength="57.34" lengthAdjust="spacingAndGlyphs" fill="#0b4960" stroke="#0b4960" stroke-width="0.5" stroke-linejoin="round" letter-spacing="0.51" word-spacing="2.04">a year ago</text>
<text x="941.51" y="531.60" font-family="'Liberation Sans', sans-serif" font-weight="bold" font-size="51.00" textLength="32.42" lengthAdjust="spacingAndGlyphs" fill="#0b4960" stroke="#0b4960" stroke-width="1.0" stroke-linejoin="round">59</text>
<text x="982.64" y="531.76" font-family="'Liberation Sans', sans-serif" font-weight="bold" font-size="30.61" textLength="41.87" lengthAdjust="spacingAndGlyphs" fill="#0b4960" stroke="#0b4960" stroke-width="0.6" stroke-linejoin="round" letter-spacing="0.92" word-spacing="3.67">Days</text>
<text x="896.14" y="653.80" font-family="'Liberation Sans', sans-serif" font-weight="bold" font-size="11.67" textLength="184.22" lengthAdjust="spacingAndGlyphs" fill="#e4f1f4">POWERED BY FLORIDA REALTORS</text>
<text x="1080.6" y="650" font-family="'Liberation Sans',sans-serif" font-weight="bold" font-size="6" fill="#b9d7de">®</text>
</svg>
</body></html>
